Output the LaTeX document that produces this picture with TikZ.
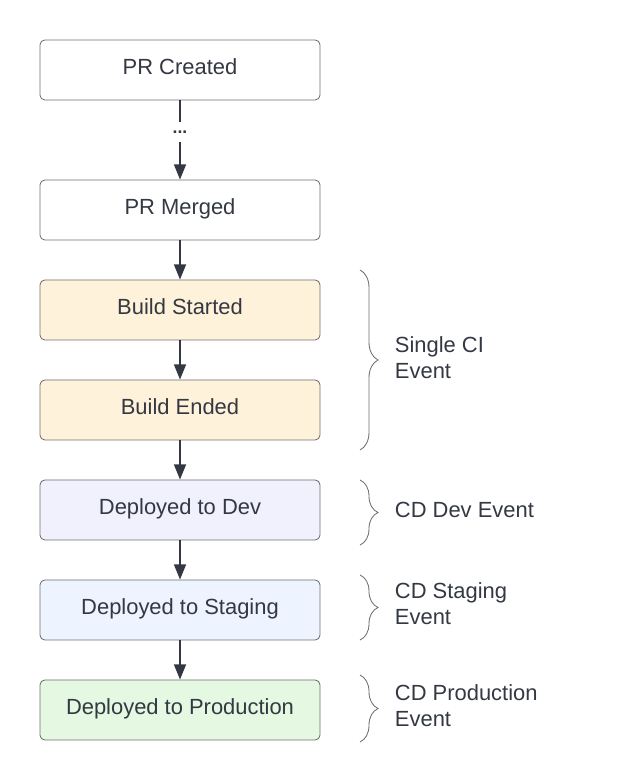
\documentclass[tikz,border=0pt]{standalone}
\usepackage{fontspec}
\setmainfont{Liberation Sans}
\usetikzlibrary{arrows.meta,decorations.pathreplacing}
\definecolor{inkgray}{HTML}{333842}
\definecolor{edgegray}{HTML}{6E6E6E}
\definecolor{buildfill}{HTML}{FEF2DA}
\definecolor{devfill}{HTML}{F1F0FD}
\definecolor{stagefill}{HTML}{EDF4FF}
\definecolor{prodfill}{HTML}{E4F8E2}
\tikzset{
    stagebox/.style={draw=edgegray, line width=0.6pt, rounded corners=0.12cm, minimum width=7cm, minimum height=1.5cm, text height=0.4cm, text depth=0.17cm, text=inkgray, font=\fontsize{15.6}{18}\selectfont},
    flow/.style={inkgray, line width=1.1pt, -{Triangle[length=0.38cm,width=0.3cm]}},
    evbrace/.style={edgegray, line width=0.6pt, decorate, decoration={brace, amplitude=0.45cm}},
    evlabel/.style={anchor=west, align=left, text=inkgray, font=\fontsize{15.6}{18.6}\selectfont}
}
\begin{document}
\begin{tikzpicture}
        \useasboundingbox (0,0) rectangle (15.5,19.55);
        \node[stagebox, fill=white] (created) at (4.5,17.8) {PR Created};
        \node[text=inkgray, inner sep=0, minimum height=0.5cm, font=\bfseries\fontsize{12.5}{14}\selectfont] (dots) at (4.5,16.25) {...};
        \node[stagebox, fill=white] (merged) at (4.5,14.3) {PR Merged};
        \node[stagebox, fill=buildfill] (buildstart) at (4.5,11.8) {Build Started};
        \node[stagebox, fill=buildfill] (buildend) at (4.5,9.3) {Build Ended};
        \node[stagebox, fill=devfill] (dev) at (4.5,6.8) {Deployed to Dev};
        \node[stagebox, fill=stagefill] (staging) at (4.5,4.3) {Deployed to Staging};
        \node[stagebox, fill=prodfill] (prod) at (4.5,1.8) {Deployed to Production};
        % flow
        \draw[inkgray, line width=1.1pt] (created) -- (dots);
        \draw[flow] (dots) -- (merged);
        \draw[flow] (merged) -- (buildstart);
        \draw[flow] (buildstart) -- (buildend);
        \draw[flow] (buildend) -- (dev);
        \draw[flow] (dev) -- (staging);
        \draw[flow] (staging) -- (prod);
        % events
        \draw[evbrace] (9,12.8) -- (9,8.3);
        \node[evlabel] (ci) at (9.75,10.6) {Single CI\\Event};
        \draw[evbrace] (9,7.55) -- (9,5.925);
        \node[evlabel] (cddev) at (9.75,6.8) {CD Dev Event};
        \draw[evbrace] (9,5.175) -- (9,3.55);
        \node[evlabel] (cdstaging) at (9.75,4.45) {CD Staging\\Event};
        \draw[evbrace] (9,2.675) -- (9,1.0);
        \node[evlabel] (cdprod) at (9.75,1.9) {CD Production\\Event};
    \end{tikzpicture}
\end{document}
